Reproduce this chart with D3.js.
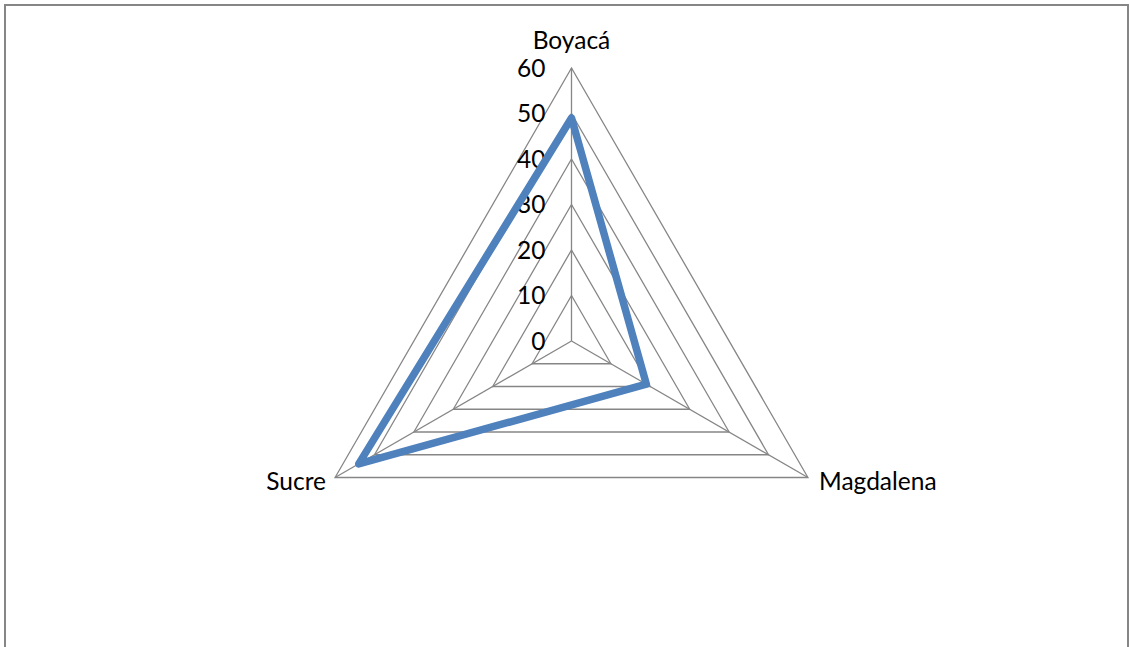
<!DOCTYPE html>
<html>
<head>
<meta charset="utf-8">
<script src="https://cdn.jsdelivr.net/npm/d3@7"></script>
<style>
  html, body { margin: 0; padding: 0; background: #fff; }
  svg { display: block; }
  text { font-family: Lato, "Open Sans", sans-serif; fill: #000; }
</style>
</head>
<body>
<svg id="chart" width="1130" height="647"></svg>
<script>
// Radar data: one series over three departments
const categories = ["Boyacá", "Magdalena", "Sucre"];
const values = [49, 19, 54];
const tickValues = [0, 10, 20, 30, 40, 50, 60];

const W = 1130, H = 647;
const cx = 571.5, cy = 341, R = 273;
const fontSize = 24.5;

const svg = d3.select("#chart");

// chart frame
svg.append("rect")
  .attr("x", 5).attr("y", 5)
  .attr("width", 1123).attr("height", 660)
  .attr("fill", "#fff")
  .attr("stroke", "#868686").attr("stroke-width", 2);

const r = d3.scaleLinear().domain([0, 60]).range([0, R]);
const angle = d3.scalePoint().domain(categories).range([0, 2 * Math.PI * (categories.length - 1) / categories.length]);

function pt(cat, v) {
  const a = angle(cat);
  return [cx + r(v) * Math.sin(a), cy - r(v) * Math.cos(a)];
}

const g = svg.append("g");

// grid rings
tickValues.filter(t => t > 0).forEach(t => {
  g.append("polygon")
    .attr("points", categories.map(c => pt(c, t).join(",")).join(" "))
    .attr("fill", "none")
    .attr("stroke", "#868686")
    .attr("stroke-width", 1.3);
});

// spokes
categories.forEach(c => {
  const [x, y] = pt(c, 60);
  g.append("line")
    .attr("x1", cx).attr("y1", cy).attr("x2", x).attr("y2", y)
    .attr("stroke", "#868686").attr("stroke-width", 1.3);
});

// value axis labels along the first spoke
g.selectAll("text.tick")
  .data(tickValues)
  .join("text")
  .attr("class", "tick")
  .attr("x", cx - 26)
  .attr("y", d => cy - r(d))
  .attr("dy", "0.35em")
  .attr("text-anchor", "end")
  .attr("font-size", fontSize)
  .text(d => d);

// series line
const line = d3.line().curve(d3.curveLinearClosed);
g.append("path")
  .attr("d", line(categories.map((c, i) => pt(c, values[i]))))
  .attr("fill", "none")
  .attr("stroke", "#4F81BD")
  .attr("stroke-width", 7.5)
  .attr("stroke-linejoin", "round");

// category labels
const labelPos = {
  "Boyacá": { x: cx, y: 49, anchor: "middle" },
  "Magdalena": { x: 819, y: 490, anchor: "start" },
  "Sucre": { x: 326, y: 490, anchor: "end" }
};
categories.forEach(c => {
  const p = labelPos[c];
  g.append("text")
    .attr("x", p.x).attr("y", p.y)
    .attr("text-anchor", p.anchor)
    .attr("font-size", fontSize)
    .text(c);
});
</script>
</body>
</html>
